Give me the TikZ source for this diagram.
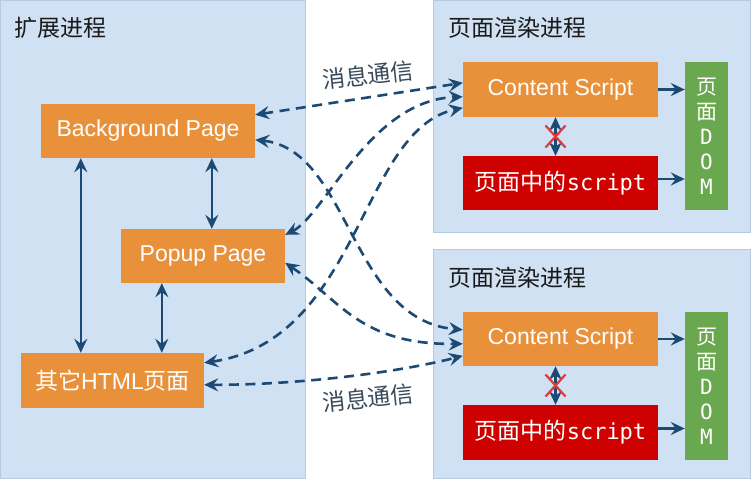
\documentclass[tikz,border=0pt]{standalone}
\usepackage{fontspec}
\setmainfont{Liberation Sans}
\newfontfamily\cjk{Noto Sans CJK SC}
\newfontfamily\monof{DejaVu Sans Mono}
\usetikzlibrary{arrows.meta,calc}
\definecolor{panelbg}{HTML}{CFE1F3}
\definecolor{panelline}{HTML}{B7CBE0}
\definecolor{boxorange}{HTML}{E9913A}
\definecolor{boxred}{HTML}{CF0000}
\definecolor{boxgreen}{HTML}{6AA84F}
\definecolor{arrowblue}{HTML}{1C4A74}
\definecolor{labelgray}{HTML}{3A4A5C}
\definecolor{xred}{HTML}{E23A3A}
\begin{document}
\begin{tikzpicture}[x=1pt,y=-1pt,
  panel/.style={fill=panelbg, draw=panelline, line width=0.8pt},
  box/.style={inner sep=0pt, text=white, font=\fontsize{23}{27}\selectfont},
  obox/.style={box, fill=boxorange},
  rbox/.style={box, fill=boxred},
  gbox/.style={box, fill=boxgreen, align=center, font=\fontsize{21}{25}\selectfont},
  title/.style={anchor=west, inner sep=0pt, font=\fontsize{23}{27}\selectfont\cjk, text=black!90},
  tip/.tip={Stealth[length=14pt,width=13pt,inset=5pt]},
  solidarrow/.style={draw=arrowblue, line width=2.6pt, -tip},
  dbl/.style={draw=arrowblue, line width=2.6pt, tip-tip},
  msg/.style={draw=arrowblue, line width=2.6pt, dash pattern=on 10pt off 6.5pt, tip-tip},
  msglabel/.style={font=\fontsize{23}{27}\selectfont\cjk, text=labelgray, rotate=6, inner sep=0pt}
]
\useasboundingbox (0,0) rectangle (751,482);
\fill[white] (0,0) rectangle (751,482);
% panels
\path[panel] (0.5,0.5) rectangle (305,478);
\path[panel] (433,0.5) rectangle (750,232);
\path[panel] (433,249) rectangle (750,478);
% titles
\node[title] (t1) at (14,28) {扩展进程};
\node[title] (t2) at (448,28) {页面渲染进程};
\node[title] (t3) at (448,278) {页面渲染进程};
% left nodes
\node[obox, minimum width=214pt, minimum height=54pt] (bg) at (148,131) {Background Page};
\node[obox, minimum width=164pt, minimum height=54pt] (pp) at (203,256) {Popup Page};
\node[obox, minimum width=183pt, minimum height=55pt] (oh) at (112.5,380.5) {{\cjk 其它}HTML{\cjk 页面}};
% right top
\node[obox, minimum width=195pt, minimum height=55pt] (cs1) at (560.5,89.5) {Content Script};
\node[rbox, minimum width=195pt, minimum height=54pt] (sc1) at (560.5,183) {{\cjk 页面中的}{\monof\fontsize{22}{26}\selectfont script}};
\node[gbox, minimum width=43pt, minimum height=148pt] (dom1) at (706.5,136) {{\cjk 页}\\{\cjk 面}\\{\monof D}\\{\monof O}\\{\monof M}};
% right bottom
\node[obox, minimum width=195pt, minimum height=54pt] (cs2) at (560.5,339) {Content Script};
\node[rbox, minimum width=195pt, minimum height=55pt] (sc2) at (560.5,432.5) {{\cjk 页面中的}{\monof\fontsize{22}{26}\selectfont script}};
\node[gbox, minimum width=43pt, minimum height=148pt] (dom2) at (706.5,386) {{\cjk 页}\\{\cjk 面}\\{\monof D}\\{\monof O}\\{\monof M}};
% solid arrows left
\draw[dbl] ([xshift=40pt]bg.south west) -- ([xshift=40pt]bg.south west |- oh.north);
\draw[dbl] ([xshift=171pt]bg.south west) -- ([xshift=171pt]bg.south west |- pp.north);
\draw[dbl] ([xshift=41pt]pp.south west) -- ([xshift=41pt]pp.south west |- oh.north);
% right solid arrows
\draw[solidarrow] (cs1.east) -- (cs1.east -| dom1.west);
\draw[solidarrow] ([yshift=4pt]sc1.east) -- ([yshift=4pt]sc1.east -| dom1.west);
\draw[solidarrow] (cs2.east) -- (cs2.east -| dom2.west);
\draw[solidarrow] ([yshift=4pt]sc2.east) -- ([yshift=4pt]sc2.east -| dom2.west);
\draw[dbl] ([xshift=-5pt]cs1.south) coordinate (a1) -- ([xshift=-5pt]sc1.north) coordinate (b1);
\draw[dbl] ([xshift=-5pt]cs2.south) coordinate (a2) -- ([xshift=-5pt]sc2.north) coordinate (b2);
\coordinate (m1) at ($(a1)!0.5!(b1)$);
\coordinate (m2) at ($(a2)!0.5!(b2)$);
\draw[xred, line width=2.2pt] ($(m1)+(-10,-11)$) -- ($(m1)+(10,11)$) ($(m1)+(10,-11)$) -- ($(m1)+(-10,11)$);
\draw[xred, line width=2.2pt] ($(m2)+(-10,-11)$) -- ($(m2)+(10,11)$) ($(m2)+(10,-11)$) -- ($(m2)+(-10,11)$);
% message curves
\draw[msg] ([yshift=-11pt]bg.north east) -- ([yshift=-21pt]cs1.north west);
\draw[msg] ([yshift=-36pt]bg.north east) .. controls (350,150) and (350,320) .. ([yshift=-18pt]cs2.north west);
\draw[msg] ([yshift=-6pt]pp.north east) .. controls (325,215) and (370,100) .. ([yshift=-35pt]cs1.north west);
\draw[msg] ([yshift=-34pt]pp.north east) .. controls (340,300) and (360,345) .. ([yshift=-32pt]cs2.north west);
\draw[msg] ([yshift=-10pt]oh.north east) .. controls (360,340) and (360,130) .. ([yshift=-46pt]cs1.north west);
\draw[msg] ([yshift=-32pt]oh.north east) .. controls (300,385) and (400,372) .. ([yshift=-44pt]cs2.north west);
% labels
\node[msglabel] (l1) at (368,75) {消息通信};
\node[msglabel] (l2) at (368,398) {消息通信};
\end{tikzpicture}
\end{document}
